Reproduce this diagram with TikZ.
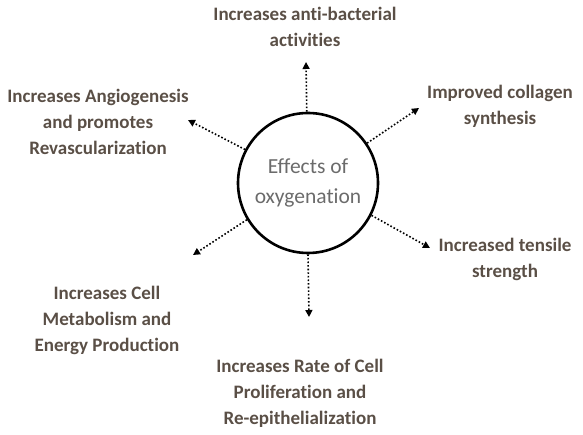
\documentclass[tikz,border=0pt]{standalone}
\usepackage{fontspec}
\setmainfont[Ligatures={NoCommon,NoRequired,NoContextual}]{Carlito}
\usepackage{xcolor}
\usepackage{tikz}
\usetikzlibrary{positioning,arrows.meta}
\definecolor{labelBrown}{HTML}{5A4F46}
\definecolor{centerGray}{HTML}{6B6B6B}

\begin{document}
\begin{tikzpicture}[x=1pt,y=-1pt,
    effect/.style={font=\fontsize{19}{26}\selectfont\bfseries, text=labelBrown, align=center},
    oxyarrow/.style={dotted, line width=1.6pt, -{Triangle[length=7pt,width=7pt]}}]
  \useasboundingbox (0,0) rectangle (583,435);

  % central circle
  \node[circle, draw, line width=2.6pt, minimum size=140pt, inner sep=0pt,
        font=\fontsize{21.5}{30}\selectfont, text=centerGray, align=center]
        (oxy) at (308,183) {Effects of\\oxygenation};

  % arrow ends
  \coordinate (tipN)  at (306,62);
  \coordinate (tipNE) at (419,108);
  \coordinate (tipNW) at (188,120);
  \coordinate (tipSW) at (193,255);
  \coordinate (tipSE) at (430,248);
  \coordinate (tipS)  at (309,317);

  \draw[oxyarrow] (oxy.91)  -- (tipN);
  \draw[oxyarrow] (oxy.34)  -- (tipNE);
  \draw[oxyarrow] (oxy.152) -- (tipNW);
  \draw[oxyarrow] (oxy.211) -- (tipSW);
  \draw[oxyarrow] (oxy.333) -- (tipSE);
  \draw[oxyarrow] (oxy.270) -- (tipS);

  % effect labels
  \node[effect] (antibac)  at (305,27)  {Increases anti-bacterial\\activities};
  \node[effect] (collagen) at (500,106) {Improved collagen\\synthesis};
  \node[effect] (angio)    at (98,122)  {Increases Angiogenesis\\and promotes\\Revascularization};
  \node[effect] (tensile)  at (505,259) {Increased tensile\\strength};
  \node[effect] (metab)    at (107,320) {Increases Cell\\Metabolism and\\Energy Production};
  \node[effect] (prolif)   at (300,393) {Increases Rate of Cell\\Proliferation and\\Re-epithelialization};
\end{tikzpicture}
\end{document}
